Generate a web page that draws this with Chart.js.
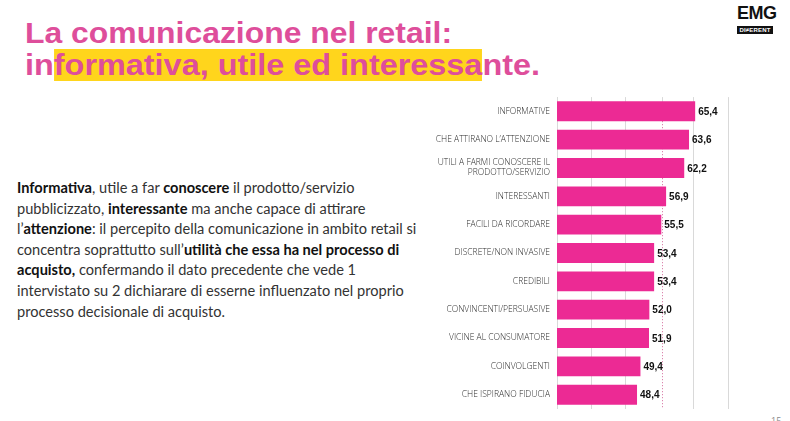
<!DOCTYPE html>
<html>
<head>
<meta charset="utf-8">
<script src="https://cdn.jsdelivr.net/npm/chart.js@4/dist/chart.umd.min.js"></script>
<style>
  html, body { margin:0; padding:0; background:#fff; }
  body { width:790px; height:421px; position:relative; overflow:hidden; font-family:"Open Sans", sans-serif; }
  .title { position:absolute; left:25px; font-family:"Liberation Sans", Arial, sans-serif; font-weight:700; color:#DE4E9B; font-size:29px; white-space:nowrap; line-height:30px; transform-origin:0 0; }
  #t1 { top:18px; }
  #t2 { top:50px; }
  .hl { background:#FFD51C; }
  #logo { position:absolute; left:737px; top:4px; width:36px; text-align:center; }
  #logo .emg { font-family:"Liberation Sans", Arial, sans-serif; font-weight:700; font-size:18px; letter-spacing:-0.5px; color:#111; line-height:18px; }
  #logo .dif { margin-top:4px; background:#111; color:#fff; font-family:"Liberation Sans", Arial, sans-serif; font-weight:700; font-size:6px; line-height:8px; letter-spacing:0.2px; }
  #body { position:absolute; left:17px; top:178px; width:430px; font-family:Lato, sans-serif; font-size:14.6px; line-height:20.6px; color:#333; white-space:nowrap; }
  #body b { color:#111; font-weight:700; }
  #page { position:absolute; left:771px; top:414px; font-size:9px; color:#888; }
  #wrap { position:absolute; left:420px; top:85px; width:370px; height:336px; }
</style>
</head>
<body>
<div class="title" id="t1">La comunicazione nel retail:</div>
<div class="title" id="t2">in<span class="hl">formativa, utile ed interessa</span>nte.</div>
<div id="logo"><div class="emg">EMG</div><div class="dif">DI≠ERENT</div></div>
<div id="body"><b>Informativa</b>, utile a far <b>conoscere</b> il prodotto/servizio<br>pubblicizzato, <b>interessante</b> ma anche capace di attirare<br>l’<b>attenzione</b>: il percepito della comunicazione in ambito retail si<br>concentra soprattutto sull’<b>utilità che essa ha nel processo di<br>acquisto,</b> confermando il dato precedente che vede 1<br>intervistato su 2 dichiarare di esserne influenzato nel proprio<br>processo decisionale di acquisto.</div>
<div id="page">15</div>
<div id="wrap"><canvas id="c"></canvas></div>
<script>
const categories = [
  "INFORMATIVE",
  "CHE ATTIRANO L’ATTENZIONE",
  ["UTILI A FARMI CONOSCERE IL", "PRODOTTO/SERVIZIO"],
  "INTERESSANTI",
  "FACILI DA RICORDARE",
  "DISCRETE/NON INVASIVE",
  "CREDIBILI",
  "CONVINCENTI/PERSUASIVE",
  "VICINE AL CONSUMATORE",
  "COINVOLGENTI",
  "CHE ISPIRANO FIDUCIA"
];
const values = [65.4, 63.6, 62.2, 56.9, 55.5, 53.4, 53.4, 52.0, 51.9, 49.4, 48.4];
const averageValue = 55.6;
const axisTicks = [25, 35, 45, 55, 65, 75];

// stretch title lines horizontally to match the reference widths
(function () {
  [['t1', 427], ['t2', 515]].forEach(([id, target]) => {
    const el = document.getElementById(id);
    const w = el.getBoundingClientRect().width;
    el.style.transform = 'scaleX(' + (target / w) + ')';
  });
})();

const avgLine = {
  id: 'avgLine',
  beforeDatasetsDraw(chart) {
    const {ctx, chartArea, scales} = chart;
    const x = Math.round(scales.x.getPixelForValue(averageValue)) + 0.5;
    const meta = chart.getDatasetMeta(0);
    const bar0 = meta.data[0];
    const yStart = bar0.y + bar0.height / 2;
    ctx.save();
    ctx.lineWidth = 1;
    ctx.strokeStyle = '#D9D9D9';
    ctx.beginPath();
    ctx.moveTo(x, chartArea.top);
    ctx.lineTo(x, yStart);
    ctx.stroke();
    ctx.strokeStyle = '#D46A9C';
    ctx.setLineDash([1, 2]);
    ctx.beginPath();
    ctx.moveTo(x, yStart);
    ctx.lineTo(x, chartArea.bottom);
    ctx.stroke();
    ctx.restore();
  }
};

const valueLabels = {
  id: 'valueLabels',
  afterDatasetsDraw(chart) {
    const {ctx} = chart;
    const meta = chart.getDatasetMeta(0);
    ctx.save();
    ctx.font = 'bold 10px "Liberation Sans", Arial, sans-serif';
    ctx.fillStyle = '#111';
    ctx.textAlign = 'left';
    ctx.textBaseline = 'middle';
    meta.data.forEach((bar, i) => {
      ctx.fillText(values[i].toFixed(1).replace('.', ','), bar.x + 3, bar.y + 1);
    });
    ctx.restore();
  }
};

new Chart(document.getElementById('c'), {
  type: 'bar',
  data: {
    labels: categories,
    datasets: [{
      data: values,
      backgroundColor: '#EC2A94',
      borderWidth: 0,
      barPercentage: 0.7,
      categoryPercentage: 1
    }]
  },
  options: {
    indexAxis: 'y',
    responsive: true,
    maintainAspectRatio: false,
    animation: false,
    layout: { padding: { top: 8, right: 62, bottom: 0, left: 0 } },
    plugins: { legend: { display: false }, tooltip: { enabled: false } },
    scales: {
      x: {
        min: 25, max: 75,
        afterBuildTicks(scale) { scale.ticks = axisTicks.map(v => ({value: v})); },
        ticks: { display: false },
        grid: {
          color: ctx => (ctx.tick && ctx.tick.value === 55) ? 'rgba(0,0,0,0)' : '#D9D9D9',
          drawTicks: false, lineWidth: 1
        },
        border: { display: false }
      },
      y: {
        afterFit(scale) { scale.width = 137; },
        ticks: {
          padding: 7,
          color: '#2a2a2a',
          font: { family: '"Open Sans", sans-serif', size: 8.5, weight: 300, lineHeight: 1.2 }
        },
        grid: { display: false, drawTicks: false },
        border: { display: true, color: '#D9D9D9' }
      }
    }
  },
  plugins: [avgLine, valueLabels]
});
</script>
</body>
</html>
